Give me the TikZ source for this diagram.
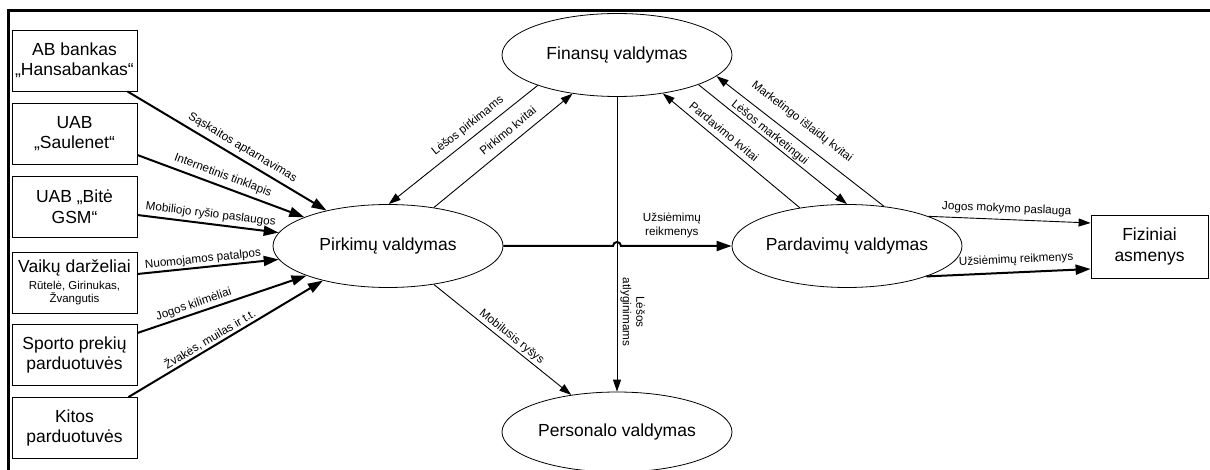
\documentclass[tikz,border=0pt]{standalone}
\usepackage{fontspec}
\setmainfont{Liberation Sans}
\usetikzlibrary{arrows.meta,shapes.geometric}
\begin{document}
\begin{tikzpicture}[x=1pt,y=1pt,
  box/.style={draw,line width=0.8pt,minimum width=125pt,minimum height=61pt,inner sep=0pt,align=center,font=\fontsize{17.5}{20.5}\selectfont},
  oval/.style={draw,ellipse,line width=0.8pt,minimum width=230pt,minimum height=83pt,inner sep=0pt,font=\fontsize{17.5}{20.5}\selectfont},
  heavy/.style={line width=2pt,-{Triangle[length=15pt,width=10pt]}},
  light/.style={line width=0.9pt,-{Triangle[length=12pt,width=8pt]}},
  lbl/.style={font=\fontsize{11.7}{13.5}\selectfont,inner sep=1pt,sloped}
]
\useasboundingbox (0,0) rectangle (1210,-470);
\fill[white] (0,0) rectangle (1210,-470);
% page frame
\draw[line width=3pt] (8.5,-470) -- (8.5,-10.5) -- (1210,-10.5);

% suppliers
\node[box] (b1) at (74.5,-60.5) {AB bankas\\„Hansabankas“};
\node[box] (b2) at (74.5,-133.5) {UAB\\„Saulenet“};
\node[box] (b3) at (74.5,-206.5) {UAB „Bitė\\GSM“};
\node[box] (b4) at (74.5,-282.5) {Vaikų darželiai\\[-3.5pt]{\fontsize{11.5}{13.5}\selectfont Rūtelė, Girinukas,}\\[-7.5pt]{\fontsize{11.5}{13.5}\selectfont Žvangutis}};
\node[box] (b5) at (74.5,-355) {Sporto prekių\\parduotuvės};
\node[box] (b6) at (74.5,-428) {Kitos\\parduotuvės};
% customers
\node[box,minimum width=117pt,minimum height=63pt] (fz) at (1149.5,-246.5) {Fiziniai\\asmenys};

% processes
\node[oval] (pk) at (388,-246) {Pirkimų valdymas};
\node[oval] (fn) at (617,-55) {Finansų valdymas};
\node[oval] (pd) at (847,-246) {Pardavimų valdymas};
\node[oval,minimum height=80pt] (ps) at (617,-432) {Personalo valdymas};

% incoming supplies
\draw[heavy] ([xshift=-10pt]b1.south east) -- node[lbl,above=3.4pt,pos=0.55]{Sąskaitos aptarnavimas} (pk.150);
\draw[heavy] ([yshift=-21.5pt]b2.east) -- node[lbl,above=3.2pt,pos=0.49]{Internetinis tinklapis} (pk.161);
\draw[heavy] ([yshift=-8.5pt]b3.east) -- node[lbl,above=2pt,pos=0.51]{Mobiliojo ryšio paslaugos} (pk.173);
\draw[heavy] ([yshift=8.5pt]b4.east) -- node[lbl,above=0.5pt,pos=0.47]{Nuomojamos patalpos} (pk.187);
\draw[heavy] ([yshift=22pt]b5.east) -- node[lbl,above=1.3pt,pos=0.35]{Jogos kilimėliai} (pk.200);
\draw[heavy] ([xshift=-9pt]b6.north east) -- node[lbl,above=0.5pt,pos=0.44]{Žvakės, muilas ir t.t.} (pk.208);

% finance flows
\draw[light] (fn.201) -- node[lbl,above=4.7pt,pos=0.42]{Lėšos pirkimams} (pk.89);
\draw[light] (pk.40) -- node[lbl,above=6.7pt,pos=0.59]{Pirkimo kvitai} (fn.221);
\draw[light] (fn.south) -- node[pos=0.73,rotate=-90,anchor=south,inner sep=3pt,align=center,font=\fontsize{11.7}{13.5}\selectfont]{Lėšos\\atlyginimams} (ps.north);
\draw[light] (pd.141) -- node[lbl,above=4.3pt,pos=0.6]{Pardavimo kvitai} (fn.320);
\draw[light] (fn.340) -- node[lbl,above=0pt,pos=0.45]{Lėšos marketingui} (pd.north);
\draw[light] (pd.47) -- node[lbl,above=9.5pt,pos=0.55]{Marketingo išlaidų kvitai} (fn.348);

% goods to sales, hopping over the salary line
\coordinate (hop) at (fn.south |- pk.east);
\draw[heavy] (pk.east) -- ([xshift=-4pt]hop) arc[start angle=180,end angle=0,radius=4pt]
  -- node[lbl,above=6.5pt,pos=0.46,align=center]{Užsiėmimų\\reikmenys} (pd.west);

% sales to customers
\draw[light] (pd.20) -- node[lbl,above=3.5pt,pos=0.48]{Jogos mokymo paslauga} ([yshift=23.5pt]fz.west);
\draw[heavy] (pd.-21) -- node[lbl,above=5pt,pos=0.55]{Užsiėmimų reikmenys} ([yshift=-22.5pt]fz.west);

% mobile service to staff
\draw[light] (pk.-40) -- node[lbl,above=1pt,pos=0.53]{Mobilusis ryšys} (ps.141);
\end{tikzpicture}
\end{document}
